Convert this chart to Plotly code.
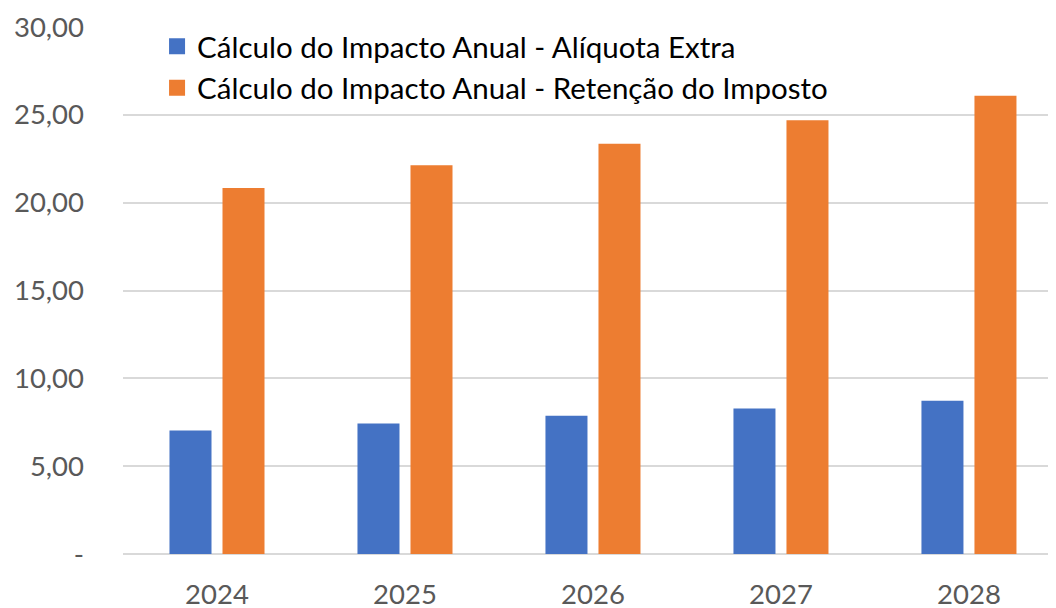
import plotly.graph_objects as go

years = ["2024", "2025", "2026", "2027", "2028"]
aliquota_extra = [7.03, 7.43, 7.87, 8.28, 8.72]
retencao_imposto = [20.84, 22.13, 23.36, 24.69, 26.09]
series_names = ["Cálculo do Impacto Anual - Alíquota Extra",
                "Cálculo do Impacto Anual - Retenção do Imposto"]
colors = ["#4472C4", "#ED7D31"]
y_ticks = [0, 5, 10, 15, 20, 25, 30]
y_tick_labels = ["-", "5,00", "10,00", "15,00", "20,00", "25,00", "30,00"]

FONT = "Lato"

fig = go.Figure()
for vals, name, col in zip([aliquota_extra, retencao_imposto], series_names, colors):
    fig.add_trace(go.Bar(x=years, y=vals, name=name, showlegend=False,
                         marker=dict(color=col, line=dict(width=0))))
# legend entries with larger square swatches
for name, col in zip(series_names, colors):
    fig.add_trace(go.Scatter(x=[None], y=[None], mode="markers", name=name,
                             marker=dict(symbol="square", size=19, color=col)))

# page body has an 8px default margin, so the figure is 1048x600
fig.update_layout(
    width=1048, height=600,
    margin=dict(l=115, r=0, t=19, b=54, autoexpand=False),
    paper_bgcolor="white", plot_bgcolor="white",
    barmode="group", bargap=0.436, bargroupgap=0.2075,
    font=dict(family=FONT, size=27, color="#595959"),
    legend=dict(x=0.0365, y=1.012, xanchor="left", yanchor="top",
                bgcolor="rgba(0,0,0,0)", font=dict(size=29.5, color="#000000"),
                itemsizing="trace", tracegroupgap=0, itemwidth=30),
    xaxis=dict(type="category", range=[-0.5, 4.463], showgrid=False,
               showline=False, ticks="", automargin=False, ticklabelstandoff=21,
               tickfont=dict(size=27.5, color="#595959")),
    yaxis=dict(range=[0, 30], tickmode="array", tickvals=y_ticks,
               ticktext=y_tick_labels, showgrid=True, gridcolor="#D9D9D9",
               gridwidth=2, zeroline=True, zerolinecolor="#D9D9D9", zerolinewidth=2,
               showline=False, ticks="", ticklabelstandoff=38, automargin=False,
               tickfont=dict(size=27.5, color="#595959")),
)

fig.write_html("out.html")
